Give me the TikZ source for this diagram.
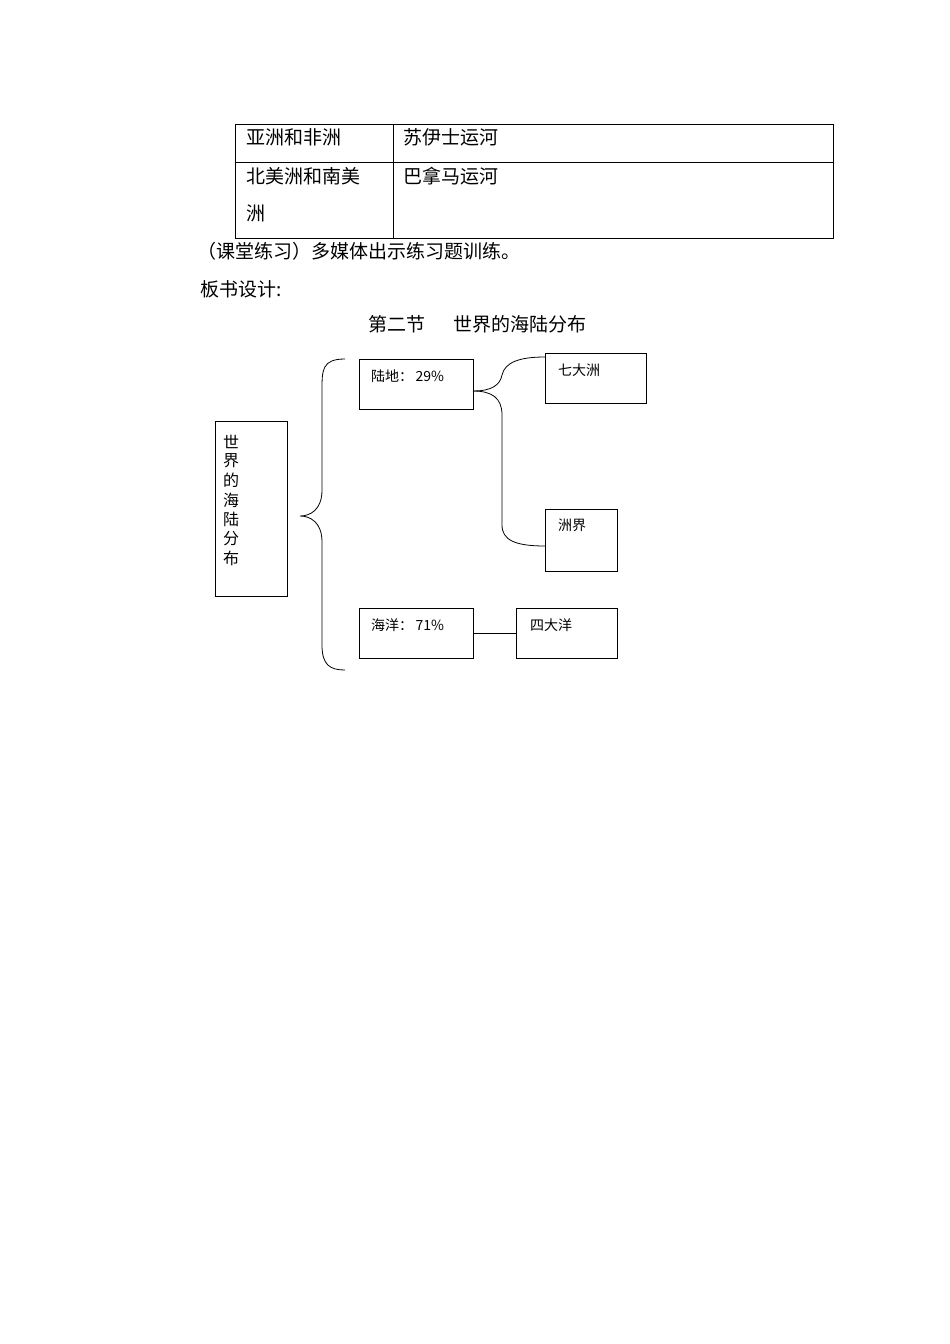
\documentclass[tikz,border=0pt]{standalone}
\usepackage{fontspec}
\setmainfont{Liberation Serif}
\newfontfamily\cjk{Noto Sans CJK SC}
\begin{document}
\begin{tikzpicture}[x=1pt,y=-1pt,
  big/.style={anchor=west,inner sep=0pt,font=\cjk\fontsize{19}{19}\selectfont},
  small/.style={anchor=west,inner sep=0pt,font=\cjk\fontsize{14}{14}\selectfont},
  bx/.style={draw,line width=0.8pt},
  ln/.style={line width=0.8pt}]
\useasboundingbox (0,0) rectangle (950,1344);
% table
\draw[line width=0.6pt] (235,124) rectangle (833,238);
\draw[line width=0.6pt] (235,162) -- (833,162);
\draw[line width=0.6pt] (393,124) -- (393,238);
\node[big] (t1) at (246,137) {亚洲和非洲};
\node[big] (t2) at (403,137) {苏伊士运河};
\node[big] (t3) at (246,176) {北美洲和南美};
\node[big] (t4) at (246,213) {洲};
\node[big] (t5) at (403,176) {巴拿马运河};
\node[big] (p1) at (197,251) {（课堂练习）多媒体出示练习题训练。};
\node[big] (p2) at (200,289) {板书设计:};
\node[big] (p3) at (368,324) {第二节\hspace{1.5em}世界的海陆分布};
% diagram
\draw[bx] (215,421) rectangle (287,596);
\foreach \c [count=\i] in {世,界,的,海,陆,分,布}
  \node[inner sep=0pt,font=\cjk\fontsize{16}{16}\selectfont] (v\i) at (231,422+19.5*\i) {\c};
\draw[ln] (345,359) .. controls (322,359) and (322,370) .. (322,390) -- (322,490)
  .. controls (322,510) and (310,516) .. (300,516)
  .. controls (310,516) and (322,522) .. (322,542) -- (322,645)
  .. controls (322,665) and (330,670) .. (345,670);
\node[bx,minimum width=114pt,minimum height=50pt] (land) at (416,384) {};
\node[small] at (371,376) {陆地：\,29\%};
\node[bx,minimum width=101pt,minimum height=50pt] (seven) at (595.5,378) {};
\node[small] at (558,370) {七大洲};
\node[bx,minimum width=72pt,minimum height=62pt] (bound) at (581,540) {};
\node[small] at (558,525) {洲界};
\node[bx,minimum width=114pt,minimum height=50pt] (ocean) at (416,633) {};
\node[small] at (371,625) {海洋：\,71\%};
\node[bx,minimum width=101pt,minimum height=50pt] (four) at (566.5,633) {};
\node[small] at (530,625) {四大洋};
\draw[ln] (ocean.east) -- (four.west);
\draw[ln] (473,391) .. controls (492,391) and (500,385) .. (502,375)
  .. controls (505,362) and (520,357) .. (545,357);
\draw[ln] (473,391) .. controls (492,391) and (502,398) .. (502,415) -- (502,525)
  .. controls (502,540) and (515,546) .. (545,546);
\end{tikzpicture}
\end{document}
